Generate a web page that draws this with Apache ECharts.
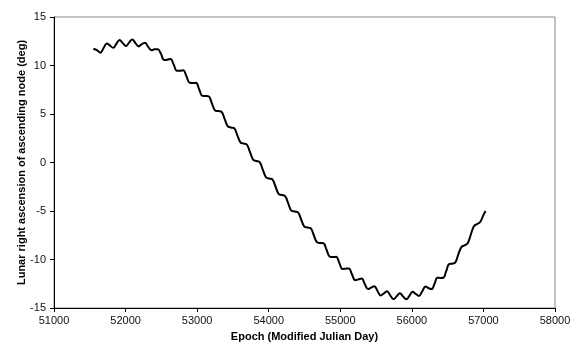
<!DOCTYPE html>
<html>
<head>
<meta charset="utf-8">
<script src="https://cdn.jsdelivr.net/npm/echarts@6/dist/echarts.min.js"></script>
<style>
  html, body { margin: 0; padding: 0; background: #fff; }
  #chart { width: 577px; height: 345px; }
</style>
</head>
<body>
<div id="chart"></div>
<script>
// epoch (MJD) and lunar RA of ascending node (deg)
const epochs = [
  51550, 51604, 51649, 51693, 51738, 51782, 51827, 51871, 51916, 51960,
  52005, 52049, 52094, 52138, 52183, 52227, 52272, 52316, 52361, 52405,
  52450, 52494, 52539, 52583, 52628, 52672, 52717, 52761, 52806, 52850,
  52895, 52939, 52984, 53028, 53073, 53117, 53162, 53206, 53251, 53295,
  53340, 53384, 53429, 53473, 53518, 53562, 53607, 53651, 53696, 53740,
  53785, 53829, 53874, 53918, 53963, 54007, 54052, 54096, 54141, 54185,
  54230, 54274, 54319, 54363, 54408, 54452, 54497, 54541, 54586, 54630,
  54675, 54719, 54764, 54808, 54853, 54897, 54942, 54986, 55031, 55075,
  55120, 55164, 55209, 55253, 55298, 55342, 55387, 55431, 55476, 55520,
  55565, 55609, 55654, 55698, 55743, 55787, 55832, 55876, 55921, 55965,
  56010, 56054, 56099, 56143, 56192, 56236, 56277, 56317, 56357, 56398,
  56439, 56480, 56520, 56561, 56605, 56648, 56692, 56736, 56780, 56823,
  56867, 56911, 56955, 56998, 57029
];
const raNode = [
  11.72, 11.55, 11.32, 11.80, 12.28, 12.05, 11.82, 12.23, 12.63, 12.33,
  12.02, 12.36, 12.68, 12.31, 11.97, 12.20, 12.35, 11.92, 11.57, 11.68,
  11.68, 11.20, 10.57, 10.60, 10.68, 10.10, 9.45, 9.45, 9.51, 8.90,
  8.22, 8.20, 8.21, 7.55, 6.87, 6.85, 6.81, 6.10, 5.37, 5.30,
  5.23, 4.50, 3.72, 3.60, 3.53, 2.80, 2.05, 1.95, 1.83, 1.05,
  0.27, 0.15, 0.03, -0.75, -1.53, -1.65, -1.75, -2.50, -3.26, -3.35,
  -3.47, -4.25, -4.98, -5.05, -5.12, -5.85, -6.61, -6.70, -6.77, -7.50,
  -8.23, -8.30, -8.32, -9.00, -9.71, -9.75, -9.72, -10.35, -10.98, -10.95,
  -10.92, -11.55, -12.13, -12.05, -11.97, -12.52, -13.05, -12.90, -12.75, -13.25,
  -13.71, -13.50, -13.27, -13.70, -14.08, -13.80, -13.47, -13.80, -14.11, -13.75,
  -13.33, -13.55, -13.76, -13.30, -12.79, -12.96, -13.05, -12.50, -11.89, -11.90,
  -11.88, -11.20, -10.47, -10.43, -10.33, -9.50, -8.72, -8.55, -8.33, -7.45,
  -6.57, -6.35, -6.13, -5.45, -5.00
];

const font = "'Liberation Sans', Arial, sans-serif";
const chart = echarts.init(document.getElementById("chart"));

chart.setOption({
  animation: false,
  backgroundColor: "#fff",
  grid: {
    left: 54, right: 22, top: 17, bottom: 37,
    show: true, borderColor: "#888", borderWidth: 1,
    containLabel: false,
    outerBoundsMode: "none"
  },
  xAxis: {
    type: "value",
    min: 51000, max: 58000, interval: 1000,
    name: "Epoch (Modified Julian Day)",
    nameLocation: "middle",
    nameGap: 23,
    nameMoveOverlap: false,
    nameTextStyle: { fontFamily: font, fontSize: 11, fontWeight: "bold", color: "#000" },
    axisLine: { onZero: false, lineStyle: { color: "#000", width: 1 } },
    axisTick: { show: true, length: 4, lineStyle: { color: "#000" } },
    axisLabel: {
      fontFamily: font, fontSize: 11, color: "#111", margin: 7,
      formatter: (v) => String(v)
    },
    splitLine: { show: false }
  },
  yAxis: {
    type: "value",
    min: -15, max: 15, interval: 5,
    name: "Lunar right ascension of ascending node (deg)",
    nameLocation: "middle",
    nameGap: 27,
    nameMoveOverlap: false,
    nameTextStyle: { fontFamily: font, fontSize: 11, fontWeight: "bold", color: "#000" },
    axisLine: { show: true, onZero: false, lineStyle: { color: "#000", width: 1 } },
    axisTick: { show: true, length: 4, lineStyle: { color: "#000" } },
    axisLabel: { fontFamily: font, fontSize: 11, color: "#111", margin: 8 },
    splitLine: { show: false }
  },
  series: [{
    type: "line",
    data: epochs.map((e, i) => [e, raNode[i]]),
    showSymbol: false,
    smooth: 0.4,
    lineStyle: { color: "#000", width: 2 }
  }]
});
</script>
</body>
</html>
